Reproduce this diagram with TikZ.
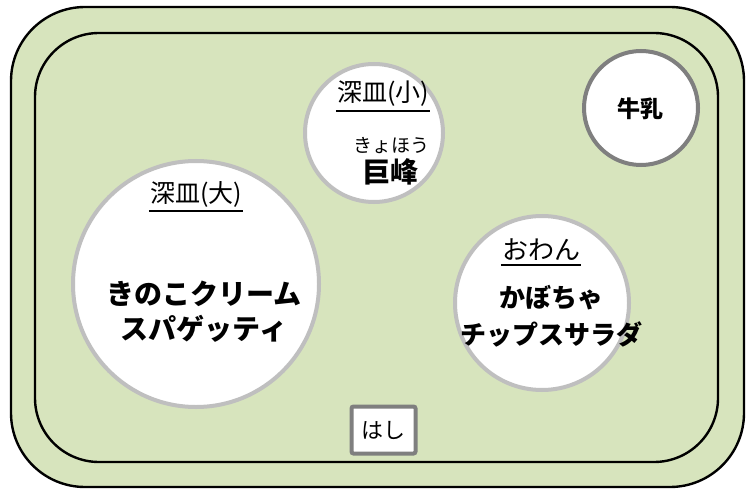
\documentclass[tikz,border=0pt]{standalone}
\usepackage{fontspec}
\setmainfont{Noto Sans CJK JP}
\IfFontExistsTF{Noto Sans CJK JP Black}{\newfontfamily\heavy{Noto Sans CJK JP Black}}{\newcommand\heavy{\bfseries}}
\definecolor{tray}{HTML}{D7E4BD}
\definecolor{rimlight}{HTML}{BFBFBF}
\definecolor{rimdark}{HTML}{7F7F7F}
\tikzset{
  traybox/.style={draw=black,line width=2.4pt},
  dish/.style={circle,draw=rimlight,line width=4pt,fill=white,inner sep=0pt},
  darkdish/.style={circle,draw=rimdark,line width=4pt,fill=white,inner sep=0pt},
  dishlabel/.style={inner sep=0pt,font=\fontsize{25}{30}\selectfont},
  menu/.style={inner sep=0pt,align=center,font=\fontsize{27}{35}\selectfont\heavy},
  uline/.style={line width=1.6pt,black}
}
\begin{document}
\begin{tikzpicture}[x=1pt,y=-1pt]
\useasboundingbox (0,0) rectangle (746,489);
% tray
\draw[traybox,fill=tray,rounded corners=74pt] (11,7) rectangle (744,487);
\draw[traybox,rounded corners=64pt] (35,33) rectangle (718,462);
% dishes
\node[dish,minimum size=246pt] (big) at (196,284) {};
\node[dish,minimum size=138pt] (small) at (374,133) {};
\node[darkdish,minimum size=114pt] (milk) at (641,108) {};
\node[dish,minimum size=174pt] (bowl) at (542,303) {};
\node[draw=rimdark,line width=4pt,fill=white,rounded corners=2pt,minimum width=64pt,minimum height=47pt,inner sep=0pt,font=\fontsize{22}{26}\selectfont] (hashi) at (383.5,430) {はし};
% labels
\node[dishlabel] (bigl) at (196,194) {深皿(大)};
\draw[uline] ([xshift=-1pt,yshift=-4pt]bigl.south west) -- ([xshift=1pt,yshift=-4pt]bigl.south east);
\node[menu,font=\fontsize{28}{35}\selectfont\heavy] (bigm) at (204,312) {きのこクリーム\\スパゲッティ};
\node[dishlabel] (smalll) at (383,94) {深皿(小)};
\draw[uline] ([xshift=-1pt,yshift=-4pt]smalll.south west) -- ([xshift=1pt,yshift=-4pt]smalll.south east);
\node[inner sep=0pt,font=\fontsize{19}{22}\selectfont] (ruby) at (391,146) {きょほう};
\node[menu,font=\fontsize{28}{35}\selectfont\heavy] (grape) at (390,172) {巨峰};
\node[menu,font=\fontsize{23}{28}\selectfont\heavy] (milkt) at (640,109) {牛乳};
\node[dishlabel,font=\fontsize{26}{30}\selectfont] (bowll) at (541,250) {おわん};
\draw[uline] ([xshift=-1pt,yshift=-4pt]bowll.south west) -- ([xshift=1pt,yshift=-4pt]bowll.south east);
\node[menu,font=\fontsize{26}{37}\selectfont\heavy] (bowlm) at (551,316) {かぼちゃ\\チップスサラダ};
\end{tikzpicture}
\end{document}
